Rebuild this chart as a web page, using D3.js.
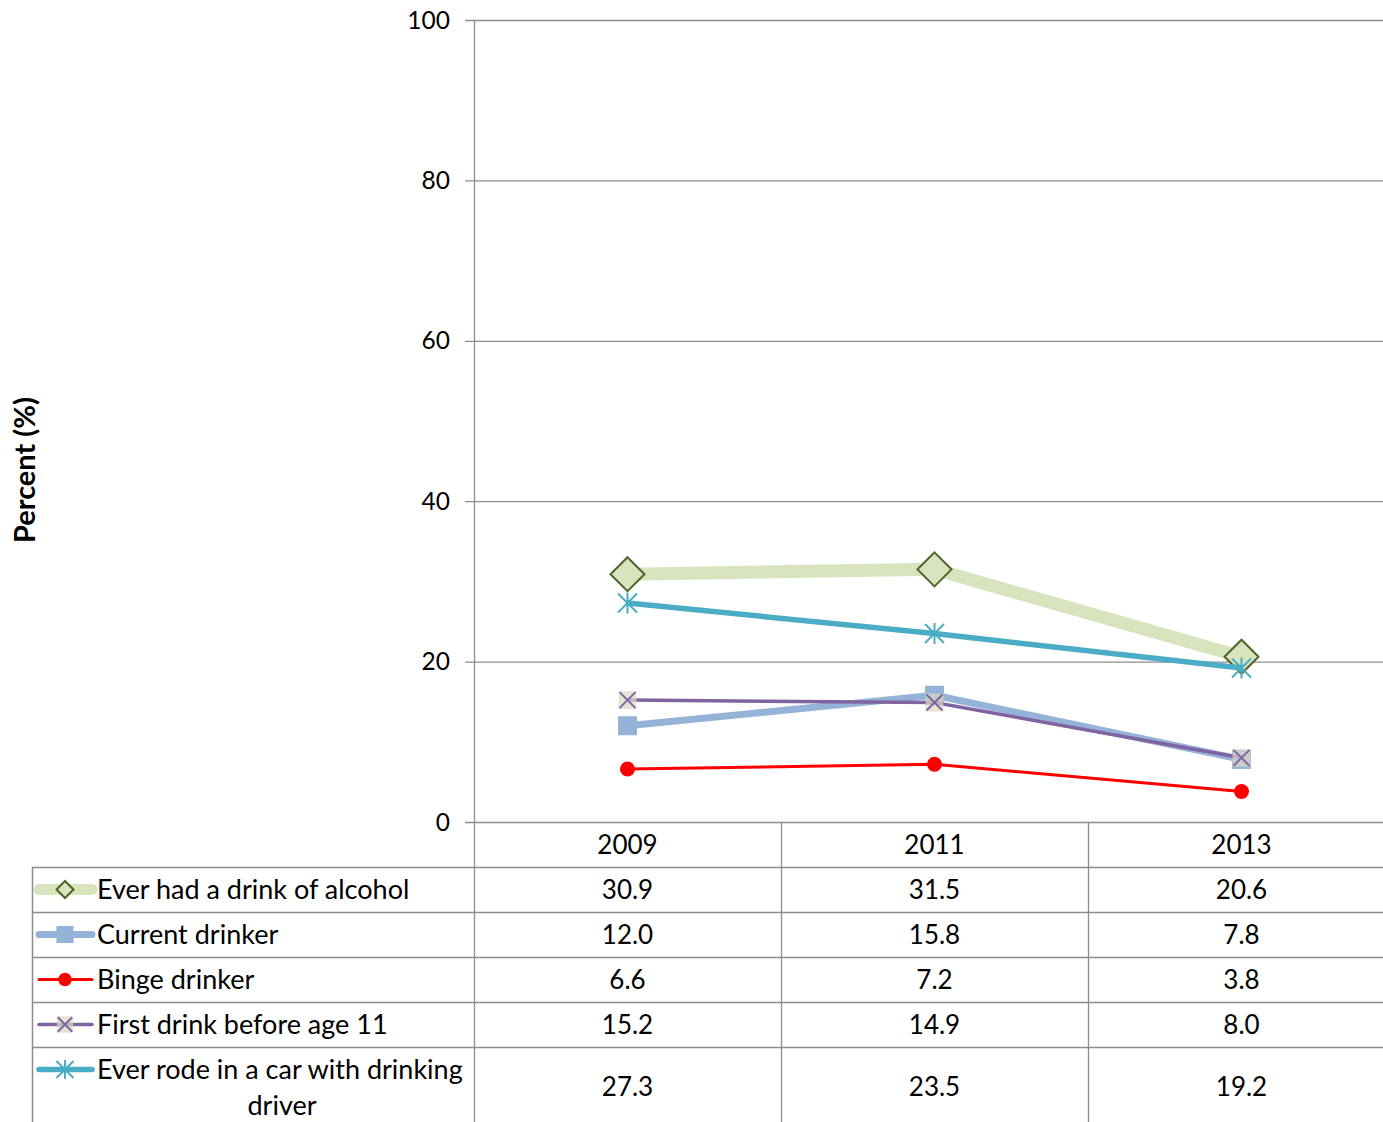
<!DOCTYPE html>
<html>
<head>
<meta charset="utf-8">
<script src="https://cdn.jsdelivr.net/npm/d3@7"></script>
<style>
  body { margin: 0; background: #fff; }
  svg text { font-family: Lato, "Open Sans", sans-serif; fill: #000; }
</style>
</head>
<body>
<div class="chart"></div>
<script>
var years = ["2009", "2011", "2013"];
var seriesNames = ["Ever had a drink of alcohol", "Current drinker", "Binge drinker", "First drink before age 11", "Ever rode in a car with drinking driver"];
var everHad = [30.9, 31.5, 20.6];
var currentDrinker = [12.0, 15.8, 7.8];
var bingeDrinker = [6.6, 7.2, 3.8];
var firstDrink = [15.2, 14.9, 8.0];
var everRode = [27.3, 23.5, 19.2];
var yTicks = [0, 20, 40, 60, 80, 100];

var svgWidth = 1383, svgHeight = 1122;
var plotLeft = 474, plotTop = 20, plotBottom = 822;
var colW = 307;

var styles = [
  { color: "#d7e4bd", width: 13, marker: "diamond" },
  { color: "#95b3d7", width: 7, marker: "square" },
  { color: "#ff0000", width: 3, marker: "circle" },
  { color: "#8064a2", width: 3.5, marker: "x" },
  { color: "#4bacc6", width: 5.5, marker: "star" }
];
var allValues = [everHad, currentDrinker, bingeDrinker, firstDrink, everRode];

var svg = d3.select(".chart").append("svg")
  .attr("width", svgWidth)
  .attr("height", svgHeight);

var x = d3.scaleBand().domain(years).range([plotLeft, plotLeft + colW * years.length]);
var y = d3.scaleLinear().domain([0, 100]).range([plotBottom, plotTop]);

// gridlines + ticks
svg.append("g").selectAll("line").data(yTicks).enter().append("line")
  .attr("x1", plotLeft - 9).attr("x2", svgWidth)
  .attr("y1", function(d) { return y(d) + 0.5; })
  .attr("y2", function(d) { return y(d) + 0.5; })
  .attr("stroke", "#8c8c8c").attr("stroke-width", 1.3);

svg.append("line")
  .attr("x1", plotLeft + 0.5).attr("x2", plotLeft + 0.5)
  .attr("y1", plotTop).attr("y2", svgHeight)
  .attr("stroke", "#8c8c8c").attr("stroke-width", 1.3);

svg.append("g").selectAll("text").data(yTicks).enter().append("text")
  .attr("x", plotLeft - 24).attr("y", function(d) { return y(d); })
  .attr("dy", "0.35em").attr("text-anchor", "end")
  .style("font-size", "24.5px")
  .text(function(d) { return d; });

svg.append("text")
  .attr("transform", "translate(35," + 470 + ") rotate(-90)")
  .attr("text-anchor", "middle")
  .style("font-size", "29px").style("font-weight", "bold")
  .text("Percent (%)");

// table
var tableLeft = 32;
var rowTops = [867, 912, 957, 1002, 1047];
var table = svg.append("g");

table.selectAll("line.h").data(rowTops).enter().append("line")
  .attr("x1", tableLeft).attr("x2", svgWidth)
  .attr("y1", function(d) { return d + 0.5; }).attr("y2", function(d) { return d + 0.5; })
  .attr("stroke", "#8c8c8c").attr("stroke-width", 1.5);

table.append("line")
  .attr("x1", tableLeft + 0.5).attr("x2", tableLeft + 0.5)
  .attr("y1", 867).attr("y2", svgHeight)
  .attr("stroke", "#8c8c8c").attr("stroke-width", 1.5);

table.selectAll("line.v").data(years.slice(1)).enter().append("line")
  .attr("x1", function(d) { return x(d) + 0.5; }).attr("x2", function(d) { return x(d) + 0.5; })
  .attr("y1", plotBottom).attr("y2", svgHeight)
  .attr("stroke", "#8c8c8c").attr("stroke-width", 1.3);

table.selectAll("text.year").data(years).enter().append("text")
  .attr("x", function(d) { return x(d) + x.bandwidth() / 2; })
  .attr("y", 845).attr("dy", "0.35em").attr("text-anchor", "middle")
  .style("font-size", "26px")
  .text(function(d) { return d; });

allValues.forEach(function(vals, i) {
  var cy = rowTops[i] + (i === 4 ? 40 : 22.5);
  table.selectAll(null).data(vals).enter().append("text")
    .attr("x", function(d, j) { return x(years[j]) + x.bandwidth() / 2; })
    .attr("y", cy).attr("dy", "0.35em").attr("text-anchor", "middle")
    .style("font-size", "26px")
    .text(function(d) { return d.toFixed(1); });
});

// legend labels
seriesNames.forEach(function(name, i) {
  var ty = rowTops[i] + 22.5;
  if (i === 4) {
    table.append("text").attr("x", 97).attr("y", ty).attr("dy", "0.35em")
      .style("font-size", "27px").text("Ever rode in a car with drinking");
    table.append("text").attr("x", 282).attr("y", ty + 36).attr("dy", "0.35em")
      .attr("text-anchor", "middle").style("font-size", "27px").text("driver");
  } else {
    table.append("text").attr("x", 97).attr("y", ty).attr("dy", "0.35em")
      .style("font-size", "27px").text(name);
  }
});

function drawMarker(g, type, cx, cy, scale) {
  var s = scale || 1;
  if (type === "diamond") {
    var r = 17 * s;
    g.append("path")
      .attr("d", "M" + cx + "," + (cy - r) + "L" + (cx + r) + "," + cy + "L" + cx + "," + (cy + r) + "L" + (cx - r) + "," + cy + "Z")
      .attr("fill", "#d7e4bd").attr("stroke", "#4f6228").attr("stroke-width", 2);
  } else if (type === "square") {
    var h = 9.5 * s;
    g.append("rect").attr("x", cx - h).attr("y", cy - h).attr("width", 2 * h).attr("height", 2 * h)
      .attr("fill", "#95b3d7");
  } else if (type === "circle") {
    g.append("circle").attr("cx", cx).attr("cy", cy).attr("r", 7.5 * s).attr("fill", "#ff0000");
  } else if (type === "x") {
    var k = 8 * s;
    g.append("rect").attr("x", cx - k - 1).attr("y", cy - k - 1).attr("width", 2 * k + 2).attr("height", 2 * k + 2)
      .attr("fill", "#ddd9c3").attr("opacity", 0.7);
    g.append("path")
      .attr("d", "M" + (cx - k) + "," + (cy - k) + "L" + (cx + k) + "," + (cy + k) + "M" + (cx - k) + "," + (cy + k) + "L" + (cx + k) + "," + (cy - k))
      .attr("stroke", "#8064a2").attr("stroke-width", 2);
  } else if (type === "star") {
    var a = 9.5 * s;
    g.append("path")
      .attr("d", "M" + (cx - a) + "," + (cy - a) + "L" + (cx + a) + "," + (cy + a) + "M" + (cx - a) + "," + (cy + a) + "L" + (cx + a) + "," + (cy - a) +
        "M" + cx + "," + (cy - a - 1) + "L" + cx + "," + (cy + a + 1))
      .attr("stroke", "#4bacc6").attr("stroke-width", 2);
  }
}

// series lines and markers
var line = d3.line()
  .x(function(d, j) { return x(years[j]) + x.bandwidth() / 2; })
  .y(function(d) { return y(d); });

allValues.forEach(function(vals, i) {
  var g = svg.append("g");
  g.append("path").datum(vals)
    .attr("d", line)
    .attr("fill", "none")
    .attr("stroke", styles[i].color)
    .attr("stroke-width", styles[i].width)
    .attr("stroke-linejoin", "round");
  vals.forEach(function(v, j) {
    drawMarker(g, styles[i].marker, x(years[j]) + x.bandwidth() / 2, y(v));
  });

  // legend key
  var ky = rowTops[i] + 22.5;
  var kg = table.append("g");
  kg.append("line").attr("x1", 39).attr("x2", 92).attr("y1", ky).attr("y2", ky)
    .attr("stroke", styles[i].color)
    .attr("stroke-width", Math.min(styles[i].width, 11))
    .attr("stroke-linecap", "round");
  drawMarker(kg, styles[i].marker, 65, ky, i === 0 ? 0.5 : 0.9);
});
</script>
</body>
</html>
